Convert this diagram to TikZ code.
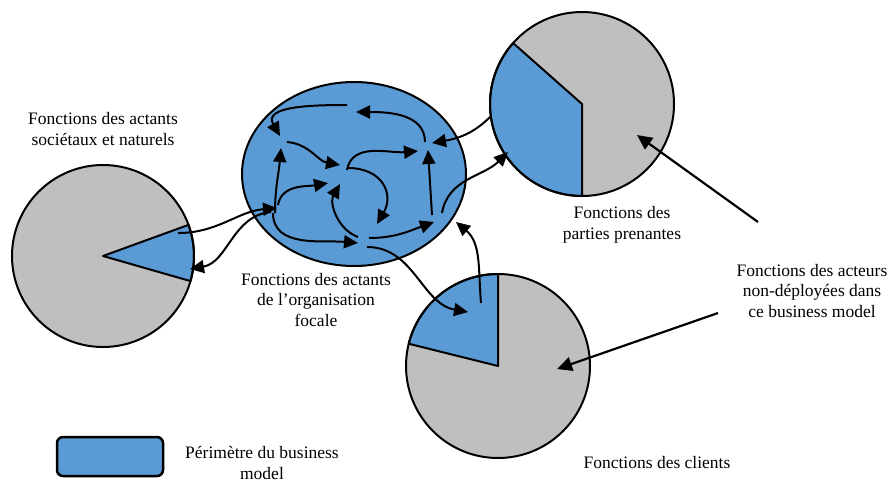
\documentclass[tikz,border=0pt]{standalone}
\usepackage{fontspec}
\setmainfont{Liberation Serif}
\usetikzlibrary{arrows.meta,shapes.geometric}
\definecolor{bmblue}{HTML}{5B9BD5}
\definecolor{bmgray}{HTML}{BFBFBF}
\begin{document}
\begin{tikzpicture}[x=1pt,y=1pt,
  arr/.style={line width=2pt,-{Triangle[length=14pt,width=13pt]}},
  ptr/.style={line width=2.2pt,-{Triangle[length=15pt,width=14pt]}},
  pieout/.style={line width=2pt},
  pie/.style={circle,fill=bmgray,minimum size=#1,inner sep=0pt,outer sep=0pt},
  wedge/.style={fill=bmblue,draw=black,line width=2pt,line join=round},
  lbl/.style={align=center,font=\fontsize{17.5}{20.5}\selectfont,inner sep=0pt}]
\useasboundingbox (0,0) rectangle (888,-483);

% pies
\node[pie=182pt] (lpie) at (103,-256) {};
\filldraw[wedge] (lpie.center) -- ++(-16:91) arc[start angle=-16,end angle=20,radius=91] -- cycle;
\draw[pieout] (lpie.center) circle[radius=91];

\node[pie=184pt] (tpie) at (582,-104) {};
\filldraw[wedge] (tpie.center) -- ++(138.5:92) arc[start angle=138.5,end angle=270,radius=92] -- cycle;
\draw[pieout] (tpie.center) circle[radius=92];

\node[pie=184pt] (bpie) at (498,-366) {};
\filldraw[wedge] (bpie.center) -- ++(90:92) arc[start angle=90,end angle=166,radius=92] -- cycle;
\draw[pieout] (bpie.center) circle[radius=92];

% focal organisation
\node[ellipse,draw,fill=bmblue,line width=2pt,minimum width=224pt,minimum height=184pt,inner sep=0pt] (org) at (354,-174) {};

% legend box
\node[draw,fill=bmblue,rounded corners=6pt,line width=2.5pt,minimum width=106pt,minimum height=39pt] (leg) at (110,-456.5) {};

% connector end points
\coordinate (a1) at (347,-105); \coordinate (a2) at (280,-136);
\coordinate (b1) at (425,-142); \coordinate (b2) at (356,-112);
\coordinate (c1) at (287,-142); \coordinate (c2) at (340,-165);
\coordinate (d1) at (347,-170); \coordinate (d2) at (418,-151);
\coordinate (e1) at (432,-215); \coordinate (e2) at (428,-150);
\coordinate (f1) at (490,-117); \coordinate (f2) at (432,-143);
\coordinate (g1) at (442,-213); \coordinate (g2) at (508,-152);
\coordinate (h1) at (275,-213); \coordinate (h2) at (281,-148);
\coordinate (i1) at (278,-205); \coordinate (i2) at (328,-183);
\coordinate (j1) at (178,-233); \coordinate (j2) at (277,-208);
\coordinate (k1) at (271,-212); \coordinate (k2) at (190,-269);
\coordinate (l1) at (273,-213); \coordinate (l2) at (358,-243);
\coordinate (m1) at (358,-237); \coordinate (m2) at (340,-184);
\coordinate (n1) at (348,-168); \coordinate (n2) at (377,-224);
\coordinate (o1) at (369,-238); \coordinate (o2) at (434,-222);
\coordinate (p1) at (367,-247); \coordinate (p2) at (468,-312);
\coordinate (q1) at (481,-303); \coordinate (q2) at (456,-222);
\coordinate (r1) at (758,-222); \coordinate (r2) at (637,-135);
\coordinate (s1) at (718,-313); \coordinate (s2) at (557,-369);

% connectors
\draw[arr] (a1) to[out=180,in=120,looseness=1.2] (a2);
\draw[arr] (b1) to[out=90,in=0] (b2);
\draw[arr] (c1) to[out=-5,in=170] (c2);
\draw[arr] (d1) to[out=80,in=185] (d2);
\draw[arr] (e1) -- (e2);
\draw[arr] (f1) to[out=225,in=10] (f2);
\draw[arr] (g1) to[out=80,in=225] (g2);
\draw[arr] (h1) to[out=90,in=-95] (h2);
\draw[arr] (i1) to[out=80,in=190] (i2);
\draw[arr] (j1) to[out=0,in=185] (j2);
\draw[arr] (k1) to[out=185,in=10] (k2);
\draw[arr] (l1) to[out=-90,in=175] (l2);
\draw[arr] (m1) to[out=160,in=240] (m2);
\draw[arr] (n1) to[out=0,in=60,looseness=1.4] (n2);
\draw[arr] (o1) to[out=0,in=200] (o2);
\draw[arr] (p1) to[out=0,in=170] (p2);
\draw[arr] (q1) to[out=95,in=-40] (q2);
\draw[ptr] (r1) -- (r2);
\draw[ptr] (s1) -- (s2);

% labels
\node[lbl] (t1) at (103,-129) {Fonctions des actants\\sociétaux et naturels};
\node[lbl] (t2) at (622,-225) {Fonctions des\\parties prenantes};
\node[lbl] (t3) at (812,-291) {Fonctions des acteurs\\non-déployées dans\\ce business model};
\node[lbl] (t4) at (316,-300) {Fonctions des actants\\de l’organisation\\focale};
\node[lbl] (t5) at (657,-463) {Fonctions des clients};
\node[lbl] (t6) at (262,-463) {Périmètre du business\\model};
\end{tikzpicture}
\end{document}
